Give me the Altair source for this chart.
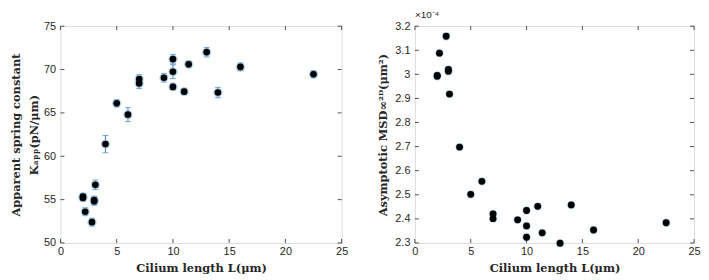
import altair as alt
import pandas as pd

# ---- data ----
length_k = [2.0, 2.0, 2.2, 2.8, 3.0, 3.0, 3.1, 4.0, 5.0, 6.0, 7.0, 7.0, 9.2, 10.0, 10.0, 10.0, 11.0, 11.4, 13.0, 14.0, 16.0, 22.5]
k_app    = [55.2, 55.35, 53.6, 52.4, 54.8, 54.95, 56.7, 61.4, 66.1, 64.8, 68.9, 68.4, 69.05, 71.2, 69.75, 68.0, 67.45, 70.6, 72.0, 67.35, 70.3, 69.45]
k_err    = [0.35, 0.35, 0.45, 0.45, 0.45, 0.45, 0.55, 1.0, 0.4, 0.8, 0.5, 0.6, 0.5, 0.55, 0.8, 0.35, 0.35, 0.35, 0.55, 0.6, 0.45, 0.4]
x_err    = [0.25] * 22

length_m = [2.0, 2.0, 2.2, 2.8, 3.0, 3.0, 3.1, 4.0, 5.0, 6.0, 7.0, 7.0, 9.2, 10.0, 10.0, 10.0, 11.0, 11.4, 13.0, 14.0, 16.0, 22.5]
msd      = [2.992, 2.996, 3.088, 3.158, 3.013, 3.020, 2.918, 2.698, 2.502, 2.556, 2.421, 2.401, 2.396, 2.435, 2.371, 2.324, 2.452, 2.342, 2.299, 2.458, 2.354, 2.384]

x_ticks = [0, 5, 10, 15, 20, 25]
k_ticks = [50, 55, 60, 65, 70, 75]
m_ticks = [2.3, 2.4, 2.5, 2.6, 2.7, 2.8, 2.9, 3.0, 3.1, 3.2]

W1, W2, H = 284, 282, 219
AX = "#262626"
BLUE = "#3d85c6"
SANS = "Liberation Sans"
SERIF = "DejaVu Serif"

dk = pd.DataFrame({"L": length_k, "K": k_app, "e": k_err, "xe": x_err})
dk["lo"] = dk.K - dk.e
dk["hi"] = dk.K + dk.e
dk["xlo"] = dk.L - dk.xe
dk["xhi"] = dk.L + dk.xe
dm = pd.DataFrame({"L": length_m, "M": msd})

xsc = alt.Scale(domain=[0, 25], nice=False)
ksc = alt.Scale(domain=[50, 75], nice=False, zero=False)
msc = alt.Scale(domain=[2.3, 3.2], nice=False, zero=False)

xaxis = alt.Axis(values=x_ticks, ticks=False, domain=False, grid=False, labelFont=SANS,
                 labelFontSize=11, labelColor=AX, labelPadding=3, labelOverlap=False,
                 title="Cilium length L(μm)", titleFont=SERIF, titleFontSize=11.5,
                 titleFontWeight="bold", titleColor=AX, titlePadding=6, labelFlush=False)
kaxis = alt.Axis(values=k_ticks, ticks=False, domain=False, grid=False, labelFont=SANS,
                 labelFontSize=11, labelColor=AX, labelPadding=5, labelOverlap=False,
                 title=["Apparent spring constant", "Kₐₚₚ(pN/μm)"], titleFont=SERIF,
                 titleFontSize=11.5, titleFontWeight="bold", titleColor=AX, titlePadding=4,
                 titleLineHeight=18)
maxis = alt.Axis(values=m_ticks, ticks=False, domain=False, grid=False, labelFont=SANS,
                 labelFontSize=11, labelColor=AX, labelPadding=5, format="~g", labelOverlap=False,
                 title="Asymptotic MSD∞²ᴰ(μm²)", titleFont=SERIF, titleFontSize=11.5,
                 titleFontWeight="bold", titleColor=AX, titlePadding=6)


def inward_ticks(values, scale_x, scale_y, yaxis, field_axis, width, height):
    dfx = pd.DataFrame({"v": values})
    layers = []
    if field_axis == "x":
        for y0, y1 in [(height, height - 4), (0, 4)]:
            layers.append(alt.Chart(dfx).mark_rule(color=AX, strokeWidth=0.8).encode(
                x=alt.X("v:Q", scale=scale_x, axis=xaxis), y=alt.value(y0), y2=alt.value(y1)))
    else:
        for x0, x1 in [(0, 4), (width, width - 4)]:
            layers.append(alt.Chart(dfx).mark_rule(color=AX, strokeWidth=0.8).encode(
                y=alt.Y("v:Q", scale=scale_y, axis=yaxis), x=alt.value(x0), x2=alt.value(x1)))
    return layers


# ---- left panel ----
base_k = alt.Chart(dk)
vbar = base_k.mark_rule(color=BLUE, strokeWidth=1).encode(
    x=alt.X("L:Q", scale=xsc, axis=xaxis),
    y=alt.Y("lo:Q", scale=ksc, axis=kaxis),
    y2="hi:Q")
hbar = base_k.mark_rule(color=BLUE, strokeWidth=1.2, opacity=0.8).encode(
    x=alt.X("xlo:Q", scale=xsc, axis=xaxis), x2="xhi:Q", y=alt.Y("K:Q", scale=ksc, axis=kaxis))
cap_lo = base_k.mark_tick(color=BLUE, thickness=1, size=6, orient="horizontal").encode(
    x=alt.X("L:Q", scale=xsc, axis=xaxis), y=alt.Y("lo:Q", scale=ksc, axis=kaxis))
cap_hi = base_k.mark_tick(color=BLUE, thickness=1, size=6, orient="horizontal").encode(
    x=alt.X("L:Q", scale=xsc, axis=xaxis), y=alt.Y("hi:Q", scale=ksc, axis=kaxis))
halo_k = base_k.mark_circle(color="#7fb3dc", size=85, opacity=0.6).encode(
    x=alt.X("L:Q", scale=xsc, axis=xaxis), y=alt.Y("K:Q", scale=ksc, axis=kaxis))
dots_k = base_k.mark_circle(color="black", size=45, opacity=1).encode(
    x=alt.X("L:Q", scale=xsc, axis=xaxis), y=alt.Y("K:Q", scale=ksc, axis=kaxis))

left = alt.layer(
    vbar, hbar, cap_lo, cap_hi, halo_k, dots_k,
    *inward_ticks(x_ticks, xsc, ksc, kaxis, "x", W1, H),
    *inward_ticks(k_ticks, xsc, ksc, kaxis, "y", W1, H),
).properties(width=W1, height=H,
             title=alt.TitleParams(" ", fontSize=10, anchor="start", frame="group", offset=0))

# ---- right panel ----
base_m = alt.Chart(dm)
halo_m = base_m.mark_circle(color="#8cbde3", size=70, opacity=0.7).encode(
    x=alt.X("L:Q", scale=xsc, axis=xaxis), y=alt.Y("M:Q", scale=msc, axis=maxis))
dots_m = base_m.mark_circle(color="black", size=48, opacity=1).encode(
    x=alt.X("L:Q", scale=xsc, axis=xaxis), y=alt.Y("M:Q", scale=msc, axis=maxis))

right = alt.layer(
    halo_m, dots_m,
    *inward_ticks(x_ticks, xsc, msc, maxis, "x", W2, H),
    *inward_ticks(m_ticks, xsc, msc, maxis, "y", W2, H),
).properties(width=W2, height=H,
             title=alt.TitleParams("×10⁻⁴", fontSize=10, font=SANS, fontWeight="normal",
                                   color=AX, anchor="start", frame="group", offset=0))

chart = alt.hconcat(left, right, spacing=29).properties(
    padding={"left": 2, "top": 0, "right": 0, "bottom": 0}
).configure_view(stroke=AX, strokeWidth=1).configure(background="white")

chart.save("out.html", embed_options={"renderer": "svg", "actions": False})
